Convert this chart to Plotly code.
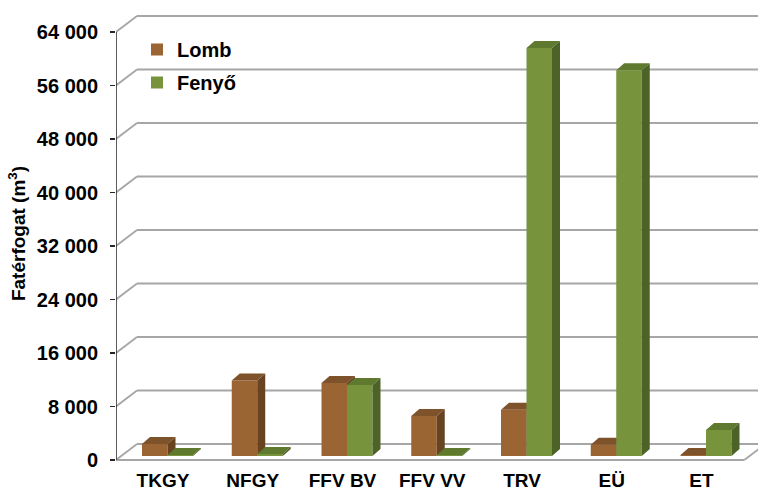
import plotly.graph_objects as go

# ---------------- data ----------------
categories = ["TKGY", "NFGY", "FFV BV", "FFV VV", "TRV", "EÜ", "ET"]
lomb_values = [1800, 11300, 10900, 6000, 6900, 1700, 150]
fenyo_values = [150, 300, 10600, 150, 61000, 57700, 3900]
series_names = ["Lomb", "Fenyő"]
y_tickvals = [0, 8000, 16000, 24000, 32000, 40000, 48000, 56000, 64000]
y_ticktext = ["0", "8 000", "16 000", "24 000", "32 000", "40 000", "48 000", "56 000", "64 000"]
axis_title = "Fatérfogat (m<sup>3</sup>)"

# ---------------- geometry helpers (pixel -> data units) ----------------
W, H = 758, 491
ML, MR, MT, MB = 116, 0, 0, 24
PX_PER_CAT = 89.75
PX_PER_UNIT = 428 / 64000.0
FIRST_CAT_PX = 163
ZERO_PX = 460


def dx(px):
    return px / PX_PER_CAT


def dy(px):
    return px / PX_PER_UNIT


X_MIN = (ML - FIRST_CAT_PX) / PX_PER_CAT
X_MAX = (W - MR - FIRST_CAT_PX) / PX_PER_CAT
Y_MIN = -(H - MB - ZERO_PX) / PX_PER_UNIT
Y_MAX = (ZERO_PX - MT) / PX_PER_UNIT

BW = dx(25.5)          # bar width
SHIFT = dx(4.5)        # bar pair shift due to depth position
BASE = dy(4)           # bar base (mid-depth)
BDX, BDY = dx(8), dy(7)  # bar depth
WDX, WDY = dx(21), dy(16)  # wall depth

colors = {
    "Lomb": dict(front="#9A6533", top="#7E522A", side="#674322"),
    "Fenyő": dict(front="#77933C", top="#5F7A2E", side="#4C6227"),
}

fig = go.Figure()


def add_series(name, values, xoff, xaxis, yaxis, group):
    c = colors[name]
    xs = [i + xoff for i in range(len(values))]
    fig.add_trace(go.Bar(
        x=xs, y=values, base=BASE, width=BW, name=name,
        marker=dict(color=c["front"], line=dict(width=0)),
        xaxis=xaxis, yaxis=yaxis, legendgroup=group, showlegend=True,
    ))
    for xc, v in zip(xs, values):
        x0, x1 = xc - BW / 2, xc + BW / 2
        t = BASE + v
        # top face
        fig.add_trace(go.Scatter(
            x=[x0, x1, x1 + BDX, x0 + BDX, x0],
            y=[t, t, t + BDY, t + BDY, t],
            fill="toself", fillcolor=c["top"], mode="lines",
            line=dict(width=0, color=c["top"]), showlegend=False,
            hoverinfo="skip", xaxis=xaxis, yaxis=yaxis,
        ))
        # side face
        fig.add_trace(go.Scatter(
            x=[x1, x1, x1 + BDX, x1 + BDX, x1],
            y=[BASE, t, t + BDY, BASE + BDY, BASE],
            fill="toself", fillcolor=c["side"], mode="lines",
            line=dict(width=0, color=c["side"]), showlegend=False,
            hoverinfo="skip", xaxis=xaxis, yaxis=yaxis,
        ))


add_series("Lomb", lomb_values, SHIFT - BW / 2, "x", "y", "g1")
add_series("Fenyő", fenyo_values, SHIFT + BW / 2, "x2", "y2", "g2")

# ---------------- walls / floor ----------------
grid_col = "#A6A6A6"
shapes = []
for v in y_tickvals:
    shapes.append(dict(type="line", xref="x", yref="y", layer="below",
                       x0=X_MIN, y0=v, x1=X_MIN + WDX, y1=v + WDY,
                       line=dict(color=grid_col, width=1.8)))
    shapes.append(dict(type="line", xref="x", yref="y", layer="below",
                       x0=X_MIN + WDX, y0=v + WDY, x1=X_MAX + 1, y1=v + WDY,
                       line=dict(color=grid_col, width=1.8)))
X_FLOOR_R = X_MIN + len(categories)
shapes.append(dict(type="line", xref="x", yref="y", layer="below",
                   x0=X_MIN, y0=0, x1=X_FLOOR_R, y1=0,
                   line=dict(color=grid_col, width=1.8)))
shapes.append(dict(type="line", xref="x", yref="y", layer="below",
                   x0=X_FLOOR_R, y0=0, x1=X_FLOOR_R + WDX, y1=WDY,
                   line=dict(color=grid_col, width=1.8)))
# vertical value axis line
shapes.append(dict(type="line", xref="x", yref="y", layer="above",
                   x0=X_MIN, y0=0, x1=X_MIN, y1=64000,
                   line=dict(color="#262626", width=1.5)))

font_fam = "Liberation Sans, Arial, sans-serif"

fig.update_layout(
    width=W, height=H,
    margin=dict(l=ML, r=MR, t=MT, b=MB, pad=0, autoexpand=False),
    paper_bgcolor="white", plot_bgcolor="white",
    barmode="overlay",
    hovermode=False,
    shapes=shapes,
    showlegend=True,
    legend=dict(
        x=(137 - ML) / (W - ML - MR), y=1 - 30 / (H - MT - MB),
        xanchor="left", yanchor="top",
        font=dict(family=font_fam, size=20, color="black", weight="bold"),
        bgcolor="rgba(0,0,0,0)", tracegroupgap=4, traceorder="grouped",
        itemwidth=30,
    ),
    xaxis=dict(
        range=[X_MIN, X_MAX], tickmode="array",
        tickvals=list(range(len(categories))), ticktext=categories,
        showgrid=False, zeroline=False, showline=False, ticks="",
        tickfont=dict(family=font_fam, size=19, color="black", weight="bold"),
        ticklabelstandoff=0, fixedrange=True, automargin=False,
    ),
    yaxis=dict(
        range=[Y_MIN, Y_MAX], tickmode="array",
        tickvals=y_tickvals, ticktext=y_ticktext,
        showgrid=False, zeroline=False, showline=False,
        ticks="outside", ticklen=5, tickcolor="#262626", tickwidth=1.5,
        tickfont=dict(family=font_fam, size=20, color="black", weight="bold"),
        ticklabelstandoff=8, automargin=False,
        title=dict(text=axis_title, standoff=6,
                   font=dict(family=font_fam, size=19, color="black", weight="bold")),
        fixedrange=True,
    ),
    xaxis2=dict(range=[X_MIN, X_MAX], overlaying="x", visible=False, fixedrange=True),
    yaxis2=dict(range=[Y_MIN, Y_MAX], overlaying="y", visible=False, fixedrange=True),
)

fig.write_html(
    "out.html",
    config={"displayModeBar": False, "staticPlot": True},
    post_script="document.body.style.margin='0';document.body.style.overflow='hidden';",
)
